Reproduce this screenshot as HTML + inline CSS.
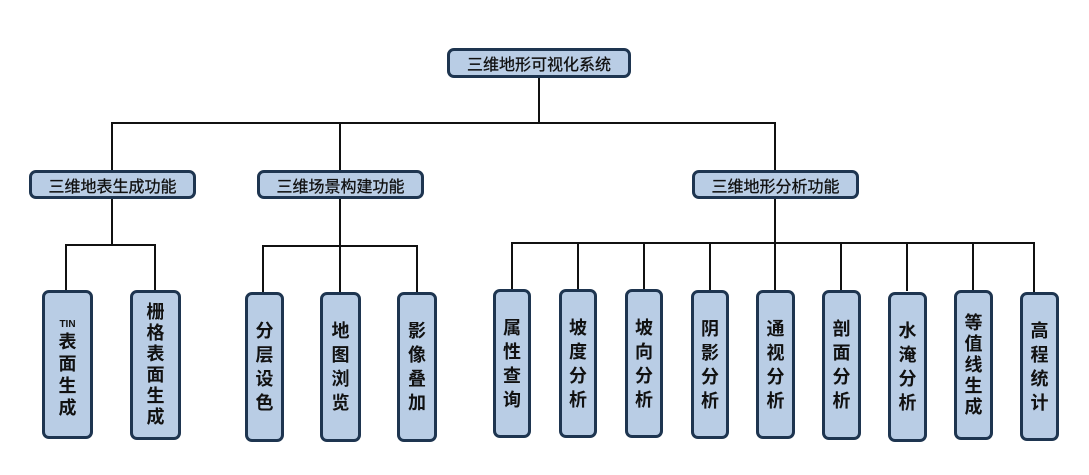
<!DOCTYPE html>
<html><head><meta charset="utf-8"><style>
body{margin:0;width:1089px;height:475px;background:#fff;position:relative;overflow:hidden;font-family:"Liberation Sans","Noto Sans CJK SC",sans-serif}
.b{position:absolute;box-sizing:border-box;background:#b9cde5;border:3px solid #1e3550;border-radius:7px;display:flex;align-items:center;justify-content:center;color:#111;font-weight:bold}
.h{font-size:16px;font-weight:normal;-webkit-text-stroke:0.3px #111}
.v{font-size:18px;line-height:24px;text-align:center;flex-direction:column}
.v6{line-height:21px}
.l{position:absolute;background:#111}
</style></head><body>
<div class="l" style="left:538px;top:77px;width:2px;height:47px"></div>
<div class="l" style="left:111px;top:122px;width:665px;height:2px"></div>
<div class="l" style="left:111px;top:122px;width:2px;height:50px"></div>
<div class="l" style="left:339px;top:122px;width:2px;height:50px"></div>
<div class="l" style="left:774px;top:122px;width:2px;height:50px"></div>

<div class="l" style="left:111px;top:197px;width:2px;height:48px"></div>
<div class="l" style="left:65px;top:244px;width:91px;height:2px"></div>
<div class="l" style="left:65px;top:244px;width:2px;height:48px"></div>
<div class="l" style="left:154px;top:244px;width:2px;height:48px"></div>

<div class="l" style="left:339px;top:197px;width:2px;height:97px"></div>
<div class="l" style="left:262px;top:245px;width:156px;height:2px"></div>
<div class="l" style="left:262px;top:245px;width:2px;height:49px"></div>
<div class="l" style="left:416px;top:245px;width:2px;height:49px"></div>

<div class="l" style="left:774px;top:197px;width:2px;height:93px"></div>
<div class="l" style="left:511px;top:242px;width:524px;height:2px"></div>
<div class="l" style="left:511px;top:242px;width:2px;height:49px"></div>
<div class="l" style="left:577px;top:242px;width:2px;height:49px"></div>
<div class="l" style="left:643px;top:242px;width:2px;height:49px"></div>
<div class="l" style="left:709px;top:242px;width:2px;height:49px"></div>
<div class="l" style="left:840px;top:242px;width:2px;height:49px"></div>
<div class="l" style="left:906px;top:242px;width:2px;height:49px"></div>
<div class="l" style="left:972px;top:242px;width:2px;height:49px"></div>
<div class="l" style="left:1033px;top:242px;width:2px;height:51px"></div>

<div class="b h" style="left:447px;top:48px;width:184px;height:30px">三维地形可视化系统</div>
<div class="b h" style="left:29px;top:170px;width:167px;height:29px">三维地表生成功能</div>
<div class="b h" style="left:257px;top:170px;width:167px;height:29px">三维场景构建功能</div>
<div class="b h" style="left:692px;top:170px;width:167px;height:29px">三维地形分析功能</div>

<div class="b v" style="left:42px;top:290px;width:51px;height:149px;line-height:22px;padding-top:8px"><span style="font-size:10px;line-height:12px">TIN</span>表<br>面<br>生<br>成</div>
<div class="b v v6" style="left:130px;top:290px;width:51px;height:150px">栅<br>格<br>表<br>面<br>生<br>成</div>
<div class="b v" style="left:245px;top:292px;width:39px;height:150px">分<br>层<br>设<br>色</div>
<div class="b v" style="left:320px;top:292px;width:41px;height:150px">地<br>图<br>浏<br>览</div>
<div class="b v" style="left:397px;top:292px;width:40px;height:150px">影<br>像<br>叠<br>加</div>

<div class="b v" style="left:493px;top:289px;width:38px;height:149px">属<br>性<br>查<br>询</div>
<div class="b v" style="left:559px;top:289px;width:38px;height:149px">坡<br>度<br>分<br>析</div>
<div class="b v" style="left:625px;top:289px;width:38px;height:149px">坡<br>向<br>分<br>析</div>
<div class="b v" style="left:691px;top:290px;width:38px;height:149px">阴<br>影<br>分<br>析</div>
<div class="b v" style="left:756px;top:290px;width:39px;height:149px">通<br>视<br>分<br>析</div>
<div class="b v" style="left:822px;top:290px;width:39px;height:150px">剖<br>面<br>分<br>析</div>
<div class="b v" style="left:888px;top:292px;width:39px;height:150px">水<br>淹<br>分<br>析</div>
<div class="b v v6" style="left:954px;top:290px;width:39px;height:150px">等<br>值<br>线<br>生<br>成</div>
<div class="b v" style="left:1020px;top:292px;width:39px;height:149px">高<br>程<br>统<br>计</div>
</body></html>
